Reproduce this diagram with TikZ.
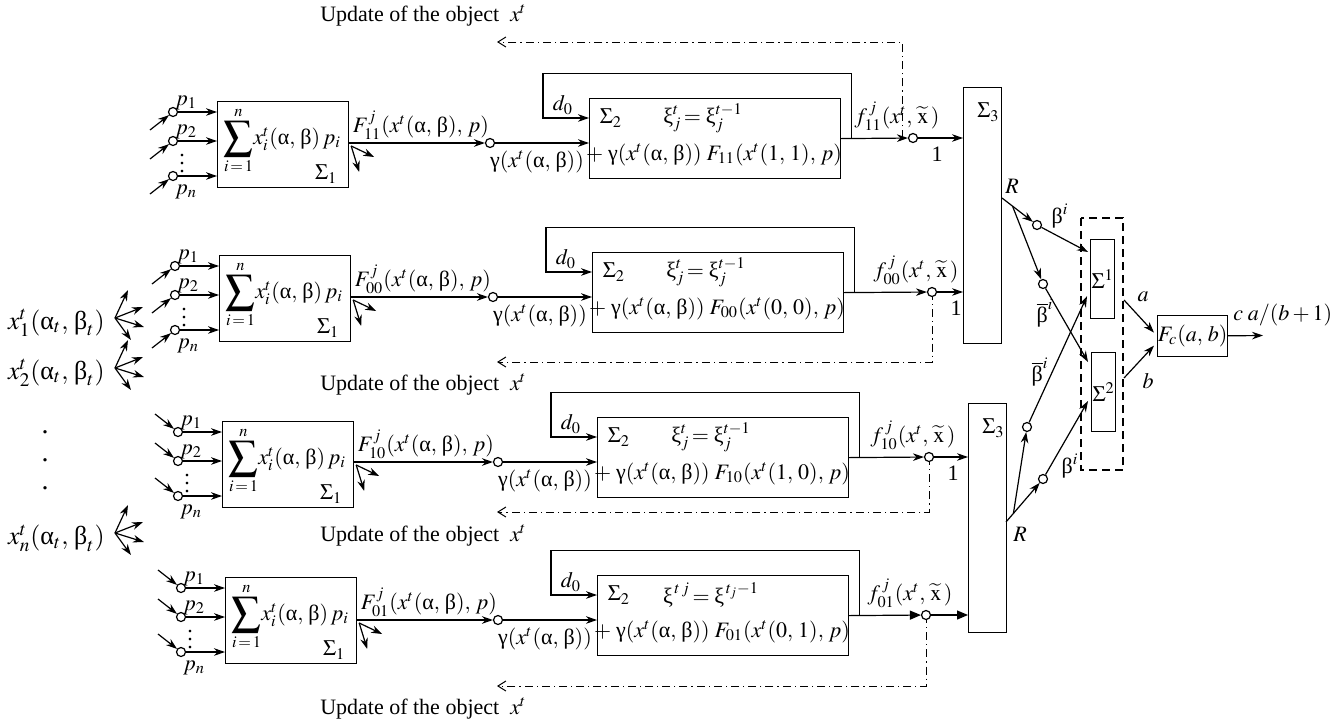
\documentclass[tikz,border=0pt]{standalone}
\usepackage{mathptmx}
\usepackage{amsmath}
\usepackage[no-math]{fontspec}
\setmainfont{Liberation Serif}
\usetikzlibrary{calc,arrows.meta,positioning}
\newcommand{\alf}{\text{α}}
\newcommand{\bet}{\text{β}}
\newcommand{\gam}{\text{γ}}
\newcommand{\xii}{\text{ξ}}
\newcommand{\grosssumme}{\mathop{\vcenter{\hbox{\fontsize{14.5}{17}\selectfont$\displaystyle\sum$}}}\limits}

\tikzset{
  pfeil/.style={-{Stealth[length=5.5pt,width=3.8pt]}},
  dickpfeil/.style={-{Triangle[length=5.5pt,width=4.5pt]}},
  rueck/.style={line width=0.5pt, dash pattern=on 4pt off 2pt on 0.6pt off 2pt,
    -{Straight Barb[length=4pt,width=5pt]}},
  kreis/.style={circle, draw, fill=white, inner sep=0pt, minimum size=4.5pt},
  block/.style={draw, rectangle, inner sep=0pt, anchor=north west},
}

\begin{document}
\begin{tikzpicture}[x=0.5pt, y=-0.5pt, line width=0.6pt,
    every node/.style={font=\fontsize{11}{13}\selectfont}]
    \useasboundingbox (0,0) rectangle (1338,723);

    % Sigma_3 Bloecke
    \node[block, minimum width=19pt, minimum height=128pt] (s3a) at (963,87) {};
    \node[anchor=north west] at ($(s3a.north west)+(7,9)$) {$\Sigma_3$};
    \node[block, minimum width=19pt, minimum height=114.5pt] (s3b) at (968,403) {};
    \node[anchor=north west] at ($(s3b.north west)+(7,9)$) {$\Sigma_3$};

    % vier Zeilen
    \foreach \ax/\ay/\bx/\by/\cx/\s/\pr/\z/\hx/\uy/\ly/\dir/\tip/\one [count=\r] in {
        217/101/589/98/913/11/{1,\,1}/a/-11/42/15/1/pfeil/1,
        219/255/592/252/932/00/{0,\,0}/a/0/362/384/1/pfeil/1,
        222/421/597/417/929/10/{1,\,0}/b/0/512/535/-1/pfeil/1,
        225/577/597/575/926/01/{0,\,1}/b/0/686/708/-1/dickpfeil/{}}
    {
        % Sigma_1
        \node[block, minimum width=65.5pt, minimum height=43pt] (sa\r) at (\ax,\ay) {};
        \node[anchor=west, inner sep=0pt] at ($(sa\r.west)+(6,-4)$)
            {$\grosssumme_{i\,=\,1}^{n}\!x^t_i(\alf,\,\bet)\,p_i$};
        \node at ($(sa\r.south east)+(-23,-14)$) {$\Sigma_1$};
        \node[kreis] (pa\r) at (\ax-44,\ay+11) {};
        \node[kreis] (pb\r) at (\ax-44,\ay+40) {};
        \node[kreis] (pn\r) at (\ax-44,\ay+75) {};
        \foreach \k in {a,b,n} {
            \draw[pfeil] (p\k\r) -- (p\k\r -| sa\r.west);
            \draw[pfeil] ($(p\k\r)+(-23,18*\dir)$) -- (p\k\r);
        }
        \node at ($(pa\r)+(13,-9)$) {$p_1$};
        \node at ($(pb\r)+(13,-9)$) {$p_2$};
        \node at ($(pn\r)+(13,16)$) {$p_n$};
        \node at ($(pb\r)+(9,17)$) {$\vdots$};

        % Sigma_2
        \node[block, minimum width=125.5pt, minimum height=40pt] (sb\r) at (\bx,\by) {};
        \node at ($(sb\r.north west)+(22,20)$) {$\Sigma_2$};
        \ifnum\r=4
            \node at ($(sb\r.north west)+(114,20)$) {$\xii^{\,t\,j}\!=\xii^{\,t_j-1}$};
        \else
            \node at ($(sb\r.north west)+(114,20)$) {$\xii^t_j\!=\xii^{t-1}_j$};
        \fi
        \node at ($(sb\r.north west)+(125,57)$)
            {$+\;\gam(x^t(\alf,\,\bet))\;F_{\s}(x^t(\pr),\,p)$};

        % Uebergang Sigma_1 -> Sigma_2
        \node[kreis] (g\r) at (\bx-99,\by+45) {};
        \draw[pfeil] (sa\r.east |- g\r) -- (g\r);
        \draw[pfeil] (g\r) -- (g\r -| sb\r.west);
        \node[anchor=south west, inner sep=1pt] at ($(sa\r.east |- g\r)+(1,-1)$)
            {$F^j_{\s}(x^t(\alf,\,\bet),\,p)$};
        \draw[pfeil] ($(sa\r.east |- g\r)+(2,3)$) -- ++(23,11);
        \draw[pfeil] ($(sa\r.east |- g\r)+(2,3)$) -- ++(8,26);
        \node at ($(g\r)+(47,19)$) {$\gam(x^t(\alf,\,\bet))$};

        % Rueckkopplung d_0
        \draw[pfeil] ($(sb\r.east)+(10,0)$) |- ($(sb\r.north west)+(-46,-24.4)$)
            |- ($(sb\r.north west)+(0,20)$);
        \node at ($(sb\r.north west)+(-26,7)$) {$d_0$};

        % Ausgang
        \coordinate (fm\r) at (\cx,\by+40);
        \draw[rueck] ($(fm\r)+(\hx,0)$) |- (497,\uy);
        \node[anchor=west] at (313,\ly) {Update of the object\enspace$x^t$};
        \node[kreis] (f\r) at (fm\r) {};
        \draw[\tip] (sb\r.east) -- (f\r);
        \draw[\tip] (f\r) -- (f\r -| s3\z.west);
        \node at ($(f\r)+(-16,-22)$) {$f^{\,j}_{\s}(x^t,\,\widetilde{\mathrm{x}}\,)$};
        \node at ($(f\r)+(24,16)$) {\one};
    }

    % Eingaenge x^t
    \tikzset{xein/.style={anchor=east, font=\fontsize{13}{15}\selectfont}}
    \node[xein] (x1) at (112,323) {$x^t_1(\alf_t,\,\bet_t)$};
    \node[xein] (x2) at (112,373) {$x^t_2(\alf_t,\,\bet_t)$};
    \node[xein] (xn) at (112,538) {$x^t_n(\alf_t,\,\bet_t)$};
    \foreach \n in {x1,x2,xn}
        \foreach \ex/\ey in {13/-28, 28/-11, 29/9, 16/22}
            \draw[pfeil] ($(\n.east)+(3,-5)$) -- ++(\ex,\ey);
    \foreach \y in {432,460,488}
        \node[font=\fontsize{14}{16}\selectfont] at (45,\y) {.};

    % Sigma^1, Sigma^2
    \node[block, minimum width=12pt, minimum height=39.5pt] (su1) at (1090,239) {$\Sigma^1$};
    \node[block, minimum width=12pt, minimum height=39.5pt] (su2) at (1091,352) {$\Sigma^2$};
    \draw[dashed, dash pattern=on 4pt off 2.5pt] (1081,218) rectangle (1123,470);

    % Verzweigung oben
    \coordinate (ra) at (1002,198);
    \node at (1012,186) {$R$};
    \node[kreis] (ba) at (1037,225) {};
    \node[kreis] (bqa) at (1043,284) {};
    \coordinate (rza) at ($(ra)!0.3!(ba)$);
    \draw[pfeil] (ra) -- (ba);
    \draw[pfeil] (ba) -- ($(su1.north west)+(-2,13)$);
    \draw[pfeil] (rza) -- (bqa);
    \draw[pfeil] (bqa) -- ($(su2.north west)+(-3,10)$);
    \node at (1060,216) {$\bet^i$};
    \node at (1045,313) {$\overline{\bet}^i$};

    % Verzweigung unten
    \coordinate (rb) at (1006,522);
    \node at (1020,534) {$R$};
    \node[kreis] (bb) at (1043,479) {};
    \node[kreis] (bqb) at (1027,427) {};
    \coordinate (rzb) at ($(rb)!0.2!(bb)$);
    \draw[pfeil] (rb) -- (bb);
    \draw[pfeil] (bb) -- ($(su2.north west)+(-3,49)$);
    \draw[pfeil] (rzb) -- (bqb);
    \draw[pfeil] (bqb) -- ($(su1.south west)+(-3,-23)$);
    \node at (1070,466) {$\bet^i$};
    \node at (1040,372) {$\overline{\bet}^i$};

    % F_c
    \node[block, minimum width=35pt, minimum height=20.5pt] (fc) at (1157,315) {$F_c(a,\,b)$};
    \coordinate (ka) at (1124,300);
    \coordinate (kb) at (1124,378);
    \draw[pfeil] (ka) -- ($(fc.west)+(-3,-3.5)$);
    \draw[pfeil] (kb) -- ($(fc.west)+(-3,9.5)$);
    \node at (1143,297) {$a$};
    \node at (1148,381) {$b$};
    \coordinate (aus) at (1263,335.5);
    \draw[pfeil] (fc) -- (aus);
    \node[anchor=west] at (1226,315) {$c\;a/(b+1)$};
\end{tikzpicture}
\end{document}
